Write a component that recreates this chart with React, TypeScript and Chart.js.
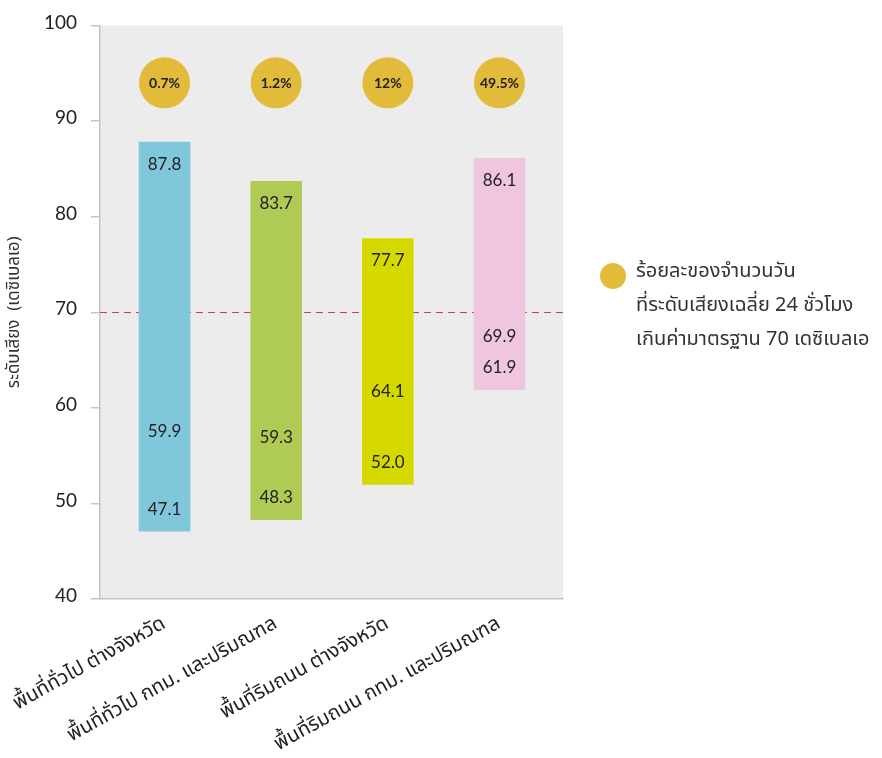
import React, { useEffect, useRef } from "react";
import { Chart, registerables } from "chart.js";

Chart.register(...registerables);

// Noise survey categories and their measured levels (dBA)
const categories = [
  "พื้นที่ทั่วไป ต่างจังหวัด",
  "พื้นที่ทั่วไป กทม. และปริมณฑล",
  "พื้นที่ริมถนน ต่างจังหวัด",
  "พื้นที่ริมถนน กทม. และปริมณฑล",
];
const minLevels = [47.1, 48.3, 52.0, 61.9];
const maxLevels = [87.8, 83.7, 77.7, 86.1];
const averageLevels = [59.9, 59.3, 64.1, 69.9];
// Share of days whose 24-hour average exceeded the standard
const exceedPercent = [0.7, 1.2, 12, 49.5];
const exceedLabels = ["0.7%", "1.2%", "12%", "49.5%"];
const standardLevel = 70;
const yTicks = [40, 50, 60, 70, 80, 90, 100];

const barColors = ["#80c7dc", "#b0cb55", "#d6d900", "#f0c6df"];
const badgeColor = "#e2bb3a";
const badgeLevel = 94;

const yTitle = "ระดับเสียง  (เดซิเบลเอ)";
const legendLines = [
  "ร้อยละของจำนวนวัน",
  "ที่ระดับเสียงเฉลี่ย 24 ชั่วโมง",
  "เกินค่ามาตรฐาน 70 เดซิเบลเอ",
];

const NUM_FONT = "Lato, 'Noto Sans', sans-serif";
const THAI_FONT = "'Noto Sans Thai', Lato, 'Noto Sans', sans-serif";

const decorPlugin = {
  id: "decor",
  beforeDraw(chart: any) {
    const { ctx, chartArea } = chart;
    ctx.save();
    ctx.fillStyle = "#ececec";
    ctx.fillRect(
      chartArea.left,
      chartArea.top,
      chartArea.right - chartArea.left,
      chartArea.bottom - chartArea.top
    );
    ctx.restore();
  },
  beforeDatasetsDraw(chart: any) {
    const { ctx, chartArea, scales } = chart;
    ctx.save();
    // standard-level dashed reference line
    const y = scales.y.getPixelForValue(standardLevel);
    ctx.strokeStyle = "#d23a42";
    ctx.lineWidth = 1;
    ctx.setLineDash([7, 5]);
    ctx.beginPath();
    ctx.moveTo(chartArea.left, Math.round(y) + 0.5);
    ctx.lineTo(chartArea.right, Math.round(y) + 0.5);
    ctx.stroke();
    ctx.restore();
  },
  afterDatasetsDraw(chart: any) {
    const { ctx, scales } = chart;
    const ys = scales.y;
    const bars = chart.getDatasetMeta(0).data;
    const badges = chart.getDatasetMeta(1).data;
    ctx.save();
    ctx.textAlign = "center";
    ctx.textBaseline = "middle";
    ctx.fillStyle = "#222";
    ctx.font = `17px ${NUM_FONT}`;
    bars.forEach((bar: any, i: number) => {
      const x = bar.x;
      ctx.fillText(maxLevels[i].toFixed(1), x, ys.getPixelForValue(maxLevels[i]) + 22);
      ctx.fillText(minLevels[i].toFixed(1), x, ys.getPixelForValue(minLevels[i]) - 22);
      ctx.fillText(averageLevels[i].toFixed(1), x, ys.getPixelForValue(averageLevels[i]) + 23);
    });
    ctx.font = `bold 14px ${NUM_FONT}`;
    badges.forEach((pt: any, i: number) => {
      ctx.fillText(exceedLabels[i], pt.x, pt.y + 1);
    });

    // legend
    const lx = chart.chartArea.right + 50;
    const ly = 276;
    ctx.fillStyle = badgeColor;
    ctx.beginPath();
    ctx.arc(lx, ly, 13, 0, Math.PI * 2);
    ctx.fill();
    ctx.fillStyle = "#333";
    ctx.textAlign = "left";
    ctx.font = `20px ${THAI_FONT}`;
    legendLines.forEach((line, i) => {
      ctx.fillText(line, lx + 23, ly - 3 + i * 34);
    });
    ctx.restore();
  },
};

export default function App() {
  const ref = useRef<HTMLCanvasElement>(null);

  useEffect(() => {
    if (!ref.current) return;
    const chart = new Chart(ref.current, {
      type: "bar",
      data: {
        datasets: [
          {
            type: "bar",
            data: categories.map((_, i) => ({ x: i, y: [minLevels[i], maxLevels[i]] })) as any,
            backgroundColor: barColors,
            borderWidth: 0,
            barThickness: 51,
            order: 2,
          },
          {
            type: "scatter",
            data: exceedPercent.map((_, i) => ({ x: i, y: badgeLevel })),
            backgroundColor: badgeColor,
            borderWidth: 0,
            pointRadius: 25.5,
            pointHoverRadius: 25.5,
            order: 1,
          } as any,
        ],
      },
      options: {
        animation: false,
        responsive: true,
        maintainAspectRatio: false,
        layout: { padding: { top: 23, right: 319, left: 0, bottom: 0 } },
        plugins: {
          legend: { display: false },
          tooltip: { enabled: false },
        },
        scales: {
          x: {
            type: "linear",
            offset: false,
            min: -0.578,
            max: 3.569,
            afterBuildTicks: (s: any) => {
              s.ticks = categories.map((_, i) => ({ value: i }));
            },
            afterFit: (s: any) => {
              s.height = 159;
              s.paddingLeft = 0;
              s.paddingRight = 0;
            },
            ticks: {
              autoSkip: false,
              minRotation: 29,
              maxRotation: 29,
              padding: 6,
              color: "#222",
              font: { size: 20, family: THAI_FONT },
              callback: (v: any) => categories[Math.round(Number(v))],
            },
            grid: { display: false, offset: false },
            border: { display: true, color: "#c4c4c4", width: 1.5 },
          },
          y: {
            type: "linear",
            min: 40,
            max: 100,
            afterBuildTicks: (s: any) => {
              s.ticks = yTicks.map((v) => ({ value: v }));
            },
            afterFit: (s: any) => {
              s.width = 100;
              s.paddingTop = 0;
              s.paddingBottom = 0;
            },
            ticks: {
              padding: 14,
              labelOffset: -3,
              color: "#222",
              font: { size: 19, family: NUM_FONT },
            },
            grid: {
              drawOnChartArea: false,
              tickLength: 9,
              color: "#c4c4c4",
              lineWidth: 1.5,
            },
            border: { display: true, color: "#c4c4c4", width: 1.5 },
            title: {
              display: true,
              text: yTitle,
              color: "#333",
              font: { size: 17, family: THAI_FONT },
              padding: { top: 5, bottom: 0 },
            },
          },
        },
      },
      plugins: [decorPlugin],
    });
    return () => chart.destroy();
  }, []);

  return (
    <div style={{ position: "absolute", left: 0, top: 0, width: 882, height: 758, background: "#fff" }}>
      <canvas ref={ref} />
    </div>
  );
}
